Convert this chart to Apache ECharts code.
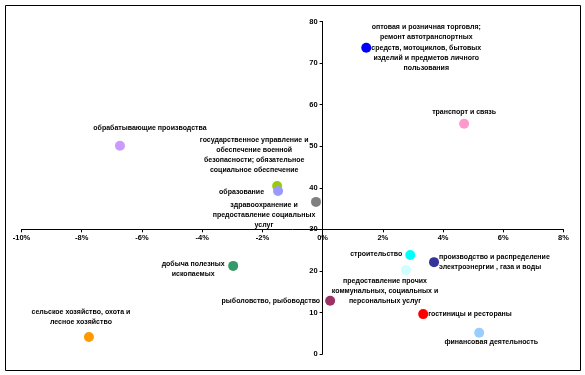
<!DOCTYPE html>
<html>
<head>
<meta charset="utf-8">
<script src="https://cdn.jsdelivr.net/npm/echarts@6/dist/echarts.min.js"></script>
<style>
  html, body { margin: 0; padding: 0; background: #fff; }
  #chart { width: 585px; height: 375px; }
</style>
</head>
<body>
<div id="chart"></div>
<script>
// отрасли
var names = [
  'оптовая и розничная торговля;\nремонт автотранспортных\nсредств, мотоциклов, бытовых\nизделий и предметов личного\nпользования',
  'транспорт и связь',
  'обрабатывающие производства',
  'государственное управление и\nобеспечение военной\nбезопасности; обязательное\nсоциальное обеспечение',
  'образование',
  'здравоохранение и\nпредоставление социальных\nуслуг',
  'строительство',
  'производство и распределение\nэлектроэнергии , газа и воды',
  'предоставление прочих\nкоммунальных, социальных и\nперсональных услуг',
  'добыча полезных\nископаемых',
  'рыболовство, рыбоводство',
  'гостиницы и рестораны',
  'финансовая деятельность',
  'сельское хозяйство, охота и\nлесное хозяйство'
];
// темп роста, %
var xValues = [1.45, 4.70, -6.73, -1.51, -1.48, -0.22, 2.91, 3.70, 2.77, -2.97, 0.25, 3.34, 5.20, -7.76];
// доля / значение
var yValues = [73.7, 55.4, 50.1, 40.4, 39.2, 36.6, 23.8, 22.1, 20.2, 21.2, 12.8, 9.6, 5.1, 4.1];

var colors = ['#0000FF', '#FF99CC', '#CC99FF', '#99CC00', '#9999FF', '#808080', '#00FFFF',
  '#333399', '#CCFFFF', '#339966', '#993366', '#FF0000', '#99CCFF', '#FF9900'];

// подписи: [dx, dy, align]
var labelLayout = [
  [60, 0, 'center'], [0, -12, 'center'], [30, -18, 'center'], [-23, -31, 'center'],
  [-14, 1, 'right'], [-52, 13, 'center'], [-8, -1, 'right'], [5, 0, 'left'],
  [-21, 21, 'center'], [-40, 3, 'center'], [-10, 0, 'right'], [5, 0, 'left'],
  [12, 9, 'center'], [-8, -20, 'center']
];

var xMin = -10, xMax = 8, xStep = 2;
var yMin = 0, yMax = 80, yStep = 10;
var xCross = 30; // ось X проходит через y = 30

var font = '"Liberation Sans", Arial, sans-serif';

var data = [];
for (var i = 0; i < names.length; i++) {
  data.push({
    name: names[i],
    value: [xValues[i], yValues[i]],
    itemStyle: { color: colors[i] },
    label: {
      show: true,
      position: 'inside',
      offset: [labelLayout[i][0], labelLayout[i][1]],
      align: labelLayout[i][2],
      verticalAlign: 'middle'
    }
  });
}

var axisText = { color: '#000', fontSize: 7.5, fontWeight: 'bold', fontFamily: font };

// размеры области построения
var W = 585, H = 375;
var gL = 21.5, gR = 21.5, gT = 21.5, gB = 21;
var plotW = W - gL - gR, plotH = H - gT - gB;
var zeroX = gL + plotW * (0 - xMin) / (xMax - xMin);
var crossY = gT + plotH * (yMax - xCross) / (yMax - yMin);

var myChart = echarts.init(document.getElementById('chart'));
myChart.setOption({
  animation: false,
  textStyle: { fontFamily: font },
  graphic: [{
    type: 'rect',
    shape: { x: 5.5, y: 5.5, width: 575, height: 365 },
    style: { fill: null, stroke: '#000', lineWidth: 1 },
    silent: true
  }],
  grid: [
    { left: gL, right: gR, top: gT, bottom: gB },
    // ось X: нижний край сетки на уровне 30
    { left: gL, right: gR, top: gT, bottom: H - crossY },
    // ось Y: левый край сетки на 0%
    { left: zeroX, right: gR, top: gT, bottom: gB }
  ],
  xAxis: [{
    type: 'value', gridIndex: 0,
    min: xMin, max: xMax, interval: xStep,
    show: false
  }, {
    type: 'value', gridIndex: 1,
    min: xMin, max: xMax, interval: xStep,
    axisLine: { onZero: false, lineStyle: { color: '#000', width: 1 } },
    axisTick: { show: true, length: 3, lineStyle: { color: '#000' } },
    axisLabel: Object.assign({ formatter: '{value}%', margin: 5 }, axisText),
    splitLine: { show: false }
  }, {
    type: 'value', gridIndex: 2,
    min: 0, max: xMax,
    show: false
  }],
  yAxis: [{
    type: 'value', gridIndex: 0,
    min: yMin, max: yMax, interval: yStep,
    show: false
  }, {
    type: 'value', gridIndex: 1,
    min: xCross, max: yMax,
    show: false
  }, {
    type: 'value', gridIndex: 2,
    min: yMin, max: yMax, interval: yStep,
    axisLine: { show: true, onZero: false, lineStyle: { color: '#000', width: 1 } },
    axisTick: { show: true, length: 3, lineStyle: { color: '#000' } },
    axisLabel: Object.assign({ margin: 5 }, axisText),
    splitLine: { show: false }
  }],
  series: [{
    type: 'scatter',
    xAxisIndex: 0, yAxisIndex: 0,
    symbolSize: 10,
    data: data,
    label: {
      formatter: '{b}',
      color: '#000',
      fontSize: 7,
      fontWeight: 'bold',
      lineHeight: 10.3,
      fontFamily: font
    },
    itemStyle: { opacity: 1 }
  }]
});
</script>
</body>
</html>
